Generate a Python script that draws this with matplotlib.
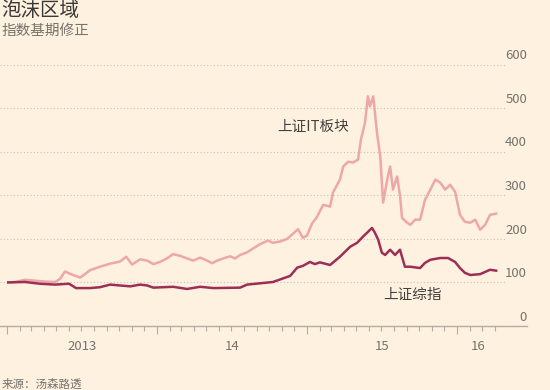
import matplotlib
matplotlib.use("Agg")
import matplotlib.pyplot as plt
import matplotlib.dates as mdates
import pandas as pd

plt.rcParams['font.family'] = ['Noto Sans CJK SC', 'DejaVu Sans']

# 上证IT板块 (rebased, Jan 2013 = 100)
it_dates = ["2013-01-04", "2013-01-20", "2013-02-14", "2013-03-10", "2013-04-04",
            "2013-04-28", "2013-05-10", "2013-05-22", "2013-06-08", "2013-06-28",
            "2013-07-22", "2013-08-15", "2013-09-09", "2013-10-03", "2013-10-18",
            "2013-11-01", "2013-11-21", "2013-12-08", "2013-12-23", "2014-01-08",
            "2014-01-25", "2014-02-09", "2014-02-26", "2014-03-15", "2014-03-30",
            "2014-04-16", "2014-05-03", "2014-05-15", "2014-05-27", "2014-06-11",
            "2014-06-28", "2014-07-10", "2014-07-22", "2014-08-08", "2014-08-23",
            "2014-09-09", "2014-09-28", "2014-10-10", "2014-10-28", "2014-11-14",
            "2014-11-28", "2014-12-10", "2014-12-22", "2015-01-01", "2015-01-13",
            "2015-01-25", "2015-02-09", "2015-02-26", "2015-03-05", "2015-03-22",
            "2015-03-30", "2015-04-11", "2015-04-23", "2015-05-05", "2015-05-12",
            "2015-05-22", "2015-05-29", "2015-06-03", "2015-06-11", "2015-06-15",
            "2015-06-20", "2015-06-28", "2015-07-05", "2015-07-15", "2015-07-22",
            "2015-07-29", "2015-08-08", "2015-08-15", "2015-08-20", "2015-08-30",
            "2015-09-09", "2015-09-21", "2015-10-03", "2015-10-15", "2015-10-28",
            "2015-11-09", "2015-11-21", "2015-12-03", "2015-12-15", "2015-12-27",
            "2016-01-08", "2016-01-20", "2016-02-02", "2016-02-14", "2016-02-26",
            "2016-03-09", "2016-03-21", "2016-04-05"]
it_values = [100, 101, 106, 104, 102,
             101, 108, 125, 118, 111,
             128, 136, 143, 148, 159,
             141, 153, 150, 142, 147,
             155, 165, 161, 155, 150,
             157, 150, 144, 150, 155,
             160, 155, 163, 169, 178,
             188, 196, 191, 194, 200,
             212, 222, 202, 208, 235,
             250, 278, 274, 306, 336,
             366, 377, 375, 382, 428,
             467, 527, 504, 527, 490,
             444, 389, 283, 336, 366,
             313, 343, 300, 248, 239,
             232, 244, 244, 290, 313,
             336, 329, 313, 324, 308,
             255, 239, 237, 244, 221,
             232, 255, 258]

# 上证综指 (rebased)
sh_dates = ["2013-01-04", "2013-02-14", "2013-03-22", "2013-04-28", "2013-06-01",
            "2013-06-18", "2013-07-22", "2013-08-15", "2013-09-09", "2013-10-03",
            "2013-10-28", "2013-11-21", "2013-12-08", "2013-12-23", "2014-02-09",
            "2014-03-15", "2014-04-16", "2014-05-18", "2014-07-22", "2014-08-08",
            "2014-09-09", "2014-10-10", "2014-10-28", "2014-11-21", "2014-12-08",
            "2014-12-22", "2015-01-08", "2015-01-20", "2015-02-01", "2015-02-26",
            "2015-03-22", "2015-04-16", "2015-05-03", "2015-05-17", "2015-05-27",
            "2015-06-08", "2015-06-15", "2015-06-23", "2015-07-02", "2015-07-10",
            "2015-07-22", "2015-08-03", "2015-08-15", "2015-08-27", "2015-09-09",
            "2015-10-03", "2015-10-15", "2015-10-28", "2015-11-21", "2015-12-10",
            "2015-12-27", "2016-01-08", "2016-01-20", "2016-02-02", "2016-02-26",
            "2016-03-21", "2016-04-05"]
sh_values = [100, 101, 97, 95, 97,
             87, 87, 89, 95, 93,
             91, 95, 93, 88, 90,
             85, 90, 87, 88, 95,
             98, 101, 107, 115, 134,
             138, 147, 142, 146, 140,
             159, 182, 191, 205, 214,
             225, 214, 198, 168, 163,
             175, 163, 175, 136, 136,
             133, 145, 152, 156, 156,
             147, 133, 122, 117, 119,
             129, 127]

y_ticks = [0, 100, 200, 300, 400, 500, 600]
year_labels = ["2013", "14", "15", "16"]
year_label_pos = ["2013-07-02", "2014-07-02", "2015-07-02", "2016-02-22"]

bg = '#fff1e0'
pink = '#eda8a6'
claret = '#9b2f55'
grey_txt = '#74736c'

fig = plt.figure(figsize=(5.5, 3.9), dpi=100, facecolor=bg)
ax = fig.add_axes([0, 64 / 390, 527 / 550, 261.5 / 390])
ax.set_facecolor(bg)

ax.plot(pd.to_datetime(it_dates), it_values, color=pink, lw=1.8, zorder=3)
ax.plot(pd.to_datetime(sh_dates), sh_values, color=claret, lw=1.8, zorder=4)

ax.set_xlim(pd.Timestamp("2012-12-15"), pd.Timestamp("2016-06-19"))
ax.set_ylim(0, 600)

# dotted grid + labels sitting above the lines on the right
for v in y_ticks[1:]:
    ax.axhline(v, xmin=0, xmax=0.958, color='#c9c0b4', lw=0.8,
               linestyle=(0, (1, 2)), zorder=1)
for v in y_ticks:
    ax.text(1.0, v + 5, str(v), transform=ax.get_yaxis_transform(),
            ha='right', va='bottom', fontsize=9.5, color=grey_txt)

for s in ['top', 'right', 'left']:
    ax.spines[s].set_visible(False)
ax.spines['bottom'].set_color('#b3aca2')
ax.spines['bottom'].set_linewidth(1)
ax.set_yticks([])

major = pd.to_datetime(["2013-01-01", "2014-01-01", "2015-01-01", "2016-01-01"])
minor = pd.date_range("2013-02-01", "2016-04-01", freq="MS")
ax.set_xticks(mdates.date2num(major))
ax.set_xticks(mdates.date2num(minor), minor=True)
ax.set_xticklabels([])
ax.tick_params(axis='x', which='major', length=6, width=0.8, color='#b3aca2', direction='out')
ax.tick_params(axis='x', which='minor', length=3.5, width=0.8, color='#b3aca2', direction='out')

for lab, d in zip(year_labels, year_label_pos):
    ax.text(pd.Timestamp(d), -21 / 261.5, lab, transform=ax.get_xaxis_transform(),
            ha='center', va='center', fontsize=9.5, color=grey_txt)

ax.text(pd.Timestamp("2014-10-20"), 457, "上证IT板块", ha='left', va='center',
        fontsize=10.5, color='#43413e')
ax.text(pd.Timestamp("2015-07-05"), 71, "上证综指", ha='left', va='center',
        fontsize=10.5, color='#43413e')

fig.text(0.003, 1 - 11 / 390, "泡沫区域", fontsize=14, va='center', ha='left', color='#3a3936')
fig.text(0.003, 1 - 31 / 390, "指数基期修正", fontsize=10.5, va='center', ha='left', color=grey_txt)
fig.text(0.003, 1 - 384 / 390, "来源：汤森路透", fontsize=8.3, va='center', ha='left', color=grey_txt)

fig.savefig("out.png", dpi=100, facecolor=bg)
